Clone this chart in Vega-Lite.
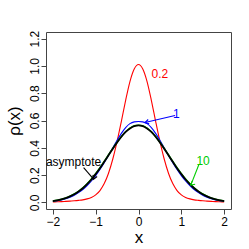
{
  "$schema": "https://vega.github.io/schema/vega-lite/v6.json",
  "width": 185,
  "height": 177,
  "autosize": "none",
  "padding": {"left": 46, "top": 32, "right": 18, "bottom": 40},
  "background": "white",
  "config": {"font": "Liberation Sans", "view": {"stroke": "#444", "strokeWidth": 1}},
  "datasets": {
    "curves": [
      {"x": -2.0, "red": 0.004, "blue": 0.009, "green": 0.011, "black": 0.010},
      {"x": -1.9, "red": 0.005, "blue": 0.013, "green": 0.016, "black": 0.015},
      {"x": -1.8, "red": 0.006, "blue": 0.019, "green": 0.023, "black": 0.022},
      {"x": -1.7, "red": 0.008, "blue": 0.028, "green": 0.033, "black": 0.031},
      {"x": -1.6, "red": 0.010, "blue": 0.039, "green": 0.046, "black": 0.044},
      {"x": -1.5, "red": 0.012, "blue": 0.053, "green": 0.062, "black": 0.060},
      {"x": -1.4, "red": 0.015, "blue": 0.072, "green": 0.082, "black": 0.080},
      {"x": -1.3, "red": 0.019, "blue": 0.095, "green": 0.107, "black": 0.104},
      {"x": -1.2, "red": 0.026, "blue": 0.123, "green": 0.137, "black": 0.134},
      {"x": -1.1, "red": 0.037, "blue": 0.157, "green": 0.171, "black": 0.168},
      {"x": -1.0, "red": 0.055, "blue": 0.196, "green": 0.211, "black": 0.208},
      {"x": -0.9, "red": 0.087, "blue": 0.241, "green": 0.254, "black": 0.251},
      {"x": -0.8, "red": 0.138, "blue": 0.291, "green": 0.301, "black": 0.298},
      {"x": -0.7, "red": 0.214, "blue": 0.345, "green": 0.349, "black": 0.346},
      {"x": -0.6, "red": 0.318, "blue": 0.400, "green": 0.396, "black": 0.394},
      {"x": -0.5, "red": 0.447, "blue": 0.455, "green": 0.441, "black": 0.439},
      {"x": -0.4, "red": 0.594, "blue": 0.506, "green": 0.483, "black": 0.481},
      {"x": -0.3, "red": 0.748, "blue": 0.548, "green": 0.518, "black": 0.516},
      {"x": -0.2, "red": 0.885, "blue": 0.577, "green": 0.544, "black": 0.542},
      {"x": -0.1, "red": 0.977, "blue": 0.590, "green": 0.561, "black": 0.559},
      {"x": 0.0, "red": 1.010, "blue": 0.593, "green": 0.566, "black": 0.564},
      {"x": 0.1, "red": 0.977, "blue": 0.590, "green": 0.561, "black": 0.559},
      {"x": 0.2, "red": 0.885, "blue": 0.577, "green": 0.544, "black": 0.542},
      {"x": 0.3, "red": 0.748, "blue": 0.548, "green": 0.518, "black": 0.516},
      {"x": 0.4, "red": 0.594, "blue": 0.506, "green": 0.483, "black": 0.481},
      {"x": 0.5, "red": 0.447, "blue": 0.455, "green": 0.441, "black": 0.439},
      {"x": 0.6, "red": 0.318, "blue": 0.400, "green": 0.396, "black": 0.394},
      {"x": 0.7, "red": 0.214, "blue": 0.345, "green": 0.349, "black": 0.346},
      {"x": 0.8, "red": 0.138, "blue": 0.291, "green": 0.301, "black": 0.298},
      {"x": 0.9, "red": 0.087, "blue": 0.241, "green": 0.254, "black": 0.251},
      {"x": 1.0, "red": 0.055, "blue": 0.196, "green": 0.211, "black": 0.208},
      {"x": 1.1, "red": 0.037, "blue": 0.157, "green": 0.171, "black": 0.168},
      {"x": 1.2, "red": 0.026, "blue": 0.123, "green": 0.137, "black": 0.134},
      {"x": 1.3, "red": 0.019, "blue": 0.095, "green": 0.107, "black": 0.104},
      {"x": 1.4, "red": 0.015, "blue": 0.072, "green": 0.082, "black": 0.080},
      {"x": 1.5, "red": 0.012, "blue": 0.053, "green": 0.062, "black": 0.060},
      {"x": 1.6, "red": 0.010, "blue": 0.039, "green": 0.046, "black": 0.044},
      {"x": 1.7, "red": 0.008, "blue": 0.028, "green": 0.033, "black": 0.031},
      {"x": 1.8, "red": 0.006, "blue": 0.019, "green": 0.023, "black": 0.022},
      {"x": 1.9, "red": 0.005, "blue": 0.013, "green": 0.016, "black": 0.015},
      {"x": 2.0, "red": 0.004, "blue": 0.009, "green": 0.011, "black": 0.010}
    ],
    "labels": [
      {"s": "0.2", "x": 0.50, "y": 0.944},
      {"s": "1", "x": 0.886, "y": 0.644},
      {"s": "10", "x": 1.509, "y": 0.302},
      {"s": "asymptote", "x": -1.516, "y": 0.295}
    ],
    "arrows": [
      {"s": "1", "x": 0.854, "y": 0.636, "x2": 0.152, "y2": 0.585},
      {"s": "10", "x": 1.413, "y": 0.280, "x2": 1.221, "y2": 0.127},
      {"s": "asymptote", "x": -1.282, "y": 0.255, "x2": -1.048, "y2": 0.170}
    ]
  },
  "encoding": {
    "x": {
      "type": "quantitative",
      "scale": {"domain": [-2.16, 2.16], "nice": false, "zero": false},
      "axis": {
        "values": [-2, -1, 0, 1, 2],
        "domain": false, "grid": false,
        "tickSize": 5, "tickColor": "#444",
        "labelPadding": 2, "labelFontSize": 12, "labelColor": "black", "labelOverlap": false, "labelFlush": false,
        "title": "x", "titleFontSize": 17, "titleFontWeight": "normal", "titleColor": "black", "titlePadding": 2
      }
    },
    "y": {
      "type": "quantitative",
      "scale": {"domain": [-0.048, 1.248], "nice": false, "zero": false},
      "axis": {
        "values": [0, 0.2, 0.4, 0.6, 0.8, 1.0, 1.2],
        "format": ".1f",
        "domain": false, "grid": false,
        "tickSize": 5, "tickColor": "#444",
        "labelAngle": 270, "labelAlign": "center", "labelBaseline": "alphabetic",
        "labelPadding": 3, "labelFontSize": 12, "labelColor": "black", "labelOverlap": false, "labelFlush": false,
        "title": "ρ(x)", "titleFontSize": 17, "titleFontWeight": "normal", "titleColor": "black", "titlePadding": 5
      }
    }
  },
  "layer": [
    {"data": {"name": "curves"}, "mark": {"type": "line", "color": "#FF0000", "strokeWidth": 1.1, "interpolate": "monotone"},
     "encoding": {"x": {"field": "x"}, "y": {"field": "red"}}},
    {"data": {"name": "curves"}, "mark": {"type": "line", "color": "#0000FF", "strokeWidth": 1.1, "interpolate": "monotone"},
     "encoding": {"x": {"field": "x"}, "y": {"field": "blue"}}},
    {"data": {"name": "curves"}, "mark": {"type": "line", "color": "#00CD00", "strokeWidth": 1.5, "interpolate": "monotone"},
     "encoding": {"x": {"field": "x"}, "y": {"field": "green"}}},
    {"data": {"name": "curves"}, "mark": {"type": "line", "color": "#000000", "strokeWidth": 1.8, "interpolate": "monotone"},
     "encoding": {"x": {"field": "x"}, "y": {"field": "black"}}},
    {"data": {"name": "arrows"}, "mark": {"type": "rule", "strokeWidth": 1.1},
     "encoding": {
       "x": {"field": "x"}, "y": {"field": "y"}, "x2": {"field": "x2"}, "y2": {"field": "y2"},
       "color": {"field": "s", "type": "nominal", "scale": {"domain": ["0.2", "1", "10", "asymptote"], "range": ["#FF0000", "#0000FF", "#00CD00", "#000000"]}, "legend": null}
     }},
    {"data": {"name": "arrows"}, "mark": {"type": "point", "shape": "M-1.7,-1L0,0L-1.7,1", "filled": false, "size": 20, "strokeWidth": 1.1, "opacity": 1},
     "encoding": {
       "x": {"field": "x2"}, "y": {"field": "y2"},
       "angle": {"field": "s", "type": "nominal", "scale": {"domain": ["1", "10", "asymptote"], "range": [167, 112, 49]}, "legend": null},
       "color": {"field": "s", "type": "nominal", "scale": {"domain": ["0.2", "1", "10", "asymptote"], "range": ["#FF0000", "#0000FF", "#00CD00", "#000000"]}, "legend": null}
     }},
    {"data": {"name": "labels"}, "mark": {"type": "text", "fontSize": 12, "align": "center", "baseline": "middle"},
     "encoding": {
       "x": {"field": "x"}, "y": {"field": "y"}, "text": {"field": "s"},
       "color": {"field": "s", "type": "nominal", "scale": {"domain": ["0.2", "1", "10", "asymptote"], "range": ["#FF0000", "#0000FF", "#00CD00", "#000000"]}, "legend": null}
     }}
  ]
}
